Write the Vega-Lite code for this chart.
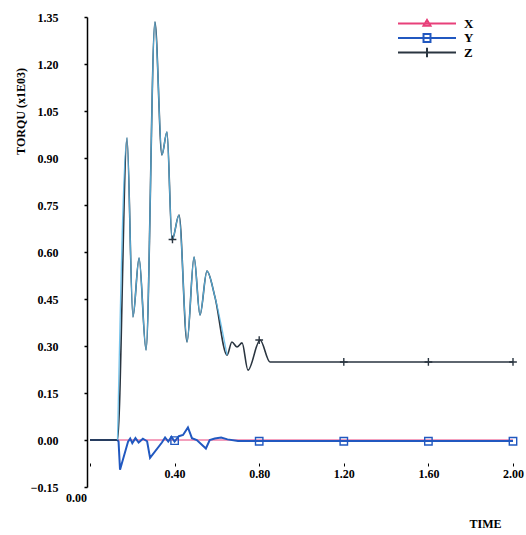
{
  "$schema": "https://vega.github.io/schema/vega-lite/v6.json",
  "width": 423,
  "height": 470,
  "autosize": {"type": "none"},
  "padding": {"left": 90, "top": 17, "right": 13, "bottom": 48},
  "background": "white",
  "config": {"view": {"stroke": null}, "font": "Liberation Serif"},
  "datasets": {
    "lines": [
      {"series": "X", "t": 0, "v": 0},
      {"series": "X", "t": 2.0, "v": 0},
      {"series": "Y", "t": 0, "v": 0},
      {"series": "Y", "t": 0.13, "v": 0},
      {"series": "Y", "t": 0.135, "v": -0.005},
      {"series": "Y", "t": 0.142, "v": -0.095},
      {"series": "Y", "t": 0.18, "v": -0.005},
      {"series": "Y", "t": 0.19, "v": 0.005},
      {"series": "Y", "t": 0.2, "v": -0.01},
      {"series": "Y", "t": 0.215, "v": 0.006},
      {"series": "Y", "t": 0.23, "v": -0.008},
      {"series": "Y", "t": 0.25, "v": 0.004},
      {"series": "Y", "t": 0.27, "v": -0.004},
      {"series": "Y", "t": 0.284, "v": -0.057},
      {"series": "Y", "t": 0.34, "v": -0.008},
      {"series": "Y", "t": 0.355, "v": 0.008},
      {"series": "Y", "t": 0.37, "v": -0.005},
      {"series": "Y", "t": 0.385, "v": 0.01},
      {"series": "Y", "t": 0.4, "v": -0.005},
      {"series": "Y", "t": 0.42, "v": 0.012},
      {"series": "Y", "t": 0.44, "v": 0.016},
      {"series": "Y", "t": 0.463, "v": 0.04},
      {"series": "Y", "t": 0.482, "v": 0.006},
      {"series": "Y", "t": 0.505, "v": 0.0},
      {"series": "Y", "t": 0.548, "v": -0.027},
      {"series": "Y", "t": 0.566, "v": 0.0},
      {"series": "Y", "t": 0.59, "v": 0.005},
      {"series": "Y", "t": 0.62, "v": 0.008},
      {"series": "Y", "t": 0.65, "v": 0.002},
      {"series": "Y", "t": 0.7, "v": -0.003},
      {"series": "Y", "t": 2.0, "v": -0.003},
      {"series": "Z", "t": 0, "v": 0},
      {"series": "Z", "t": 0.13, "v": 0},
      {"series": "Z", "t": 0.175, "v": 0.964},
      {"series": "Z", "t": 0.203, "v": 0.393},
      {"series": "Z", "t": 0.232, "v": 0.581},
      {"series": "Z", "t": 0.265, "v": 0.287},
      {"series": "Z", "t": 0.307, "v": 1.334},
      {"series": "Z", "t": 0.34, "v": 0.91},
      {"series": "Z", "t": 0.364, "v": 0.983},
      {"series": "Z", "t": 0.388, "v": 0.638},
      {"series": "Z", "t": 0.421, "v": 0.718},
      {"series": "Z", "t": 0.459, "v": 0.313},
      {"series": "Z", "t": 0.492, "v": 0.584},
      {"series": "Z", "t": 0.52, "v": 0.399},
      {"series": "Z", "t": 0.553, "v": 0.539},
      {"series": "Z", "t": 0.591, "v": 0.456},
      {"series": "Z", "t": 0.648, "v": 0.271},
      {"series": "Z", "t": 0.671, "v": 0.313},
      {"series": "Z", "t": 0.695, "v": 0.297},
      {"series": "Z", "t": 0.719, "v": 0.31},
      {"series": "Z", "t": 0.747, "v": 0.223},
      {"series": "Z", "t": 0.804, "v": 0.319},
      {"series": "Z", "t": 0.851, "v": 0.249},
      {"series": "Z", "t": 2.0, "v": 0.249}
    ],
    "markers": [
      {"series": "Y", "t": 0.4, "v": -0.002},
      {"series": "Y", "t": 0.8, "v": -0.004},
      {"series": "Y", "t": 1.2, "v": -0.004},
      {"series": "Y", "t": 1.6, "v": -0.004},
      {"series": "Y", "t": 2.0, "v": -0.004},
      {"series": "Z", "t": 0.39, "v": 0.64},
      {"series": "Z", "t": 0.8, "v": 0.319},
      {"series": "Z", "t": 1.2, "v": 0.249},
      {"series": "Z", "t": 1.6, "v": 0.249},
      {"series": "Z", "t": 2.0, "v": 0.249}
    ],
    "legendRows": [
      {"series": "X", "t": 2.0, "v": 0},
      {"series": "Y", "t": 2.0, "v": 0},
      {"series": "Z", "t": 2.0, "v": 0}
    ]
  },
  "layer": [
    {
      "data": {"name": "lines"},
      "transform": [{"filter": "datum.series === 'X'"}],
      "mark": {"type": "line", "strokeWidth": 1},
      "encoding": {
        "x": {
          "field": "t", "type": "quantitative",
          "scale": {"domain": [0, 2], "nice": false, "zero": false},
          "axis": {
            "values": [0, 0.4, 0.8, 1.2, 1.6, 2.0],
            "format": ".2f",
            "offset": -24,
            "domain": false,
            "grid": false,
            "ticks": true,
            "tickSize": 3,
            "tickColor": "black",
            "tickWidth": 1,
            "labelPadding": {"condition": {"test": "datum.value === 0", "value": 26}, "value": 2},
            "labelOffset": {"condition": {"test": "datum.value === 0", "value": -14}, "value": 0},
            "labelFont": "Liberation Serif",
            "labelFontWeight": "bold",
            "labelFontSize": 12,
            "labelColor": "black",
            "labelFlush": false,
            "title": "TIME",
            "titleFont": "Liberation Serif",
            "titleFontWeight": "bold",
            "titleFontSize": 12,
            "titleColor": "black",
            "titleX": 395,
            "titleY": 60,
            "titleAlign": "center",
            "titleBaseline": "middle"
          }
        },
        "y": {
          "field": "v", "type": "quantitative",
          "scale": {"domain": [-0.15, 1.35], "nice": false, "zero": false},
          "axis": {
            "values": [-0.15, 0, 0.15, 0.3, 0.45, 0.6, 0.75, 0.9, 1.05, 1.2, 1.35],
            "format": ".2f",
            "offset": 3,
            "grid": false,
            "domainColor": "black",
            "domainWidth": 1.5,
            "tickSize": 3,
            "tickColor": "black",
            "tickWidth": 1.5,
            "labelPadding": 26,
            "labelFont": "Liberation Serif",
            "labelFontWeight": "bold",
            "labelFontSize": 12,
            "labelColor": "black",
            "labelFlush": false,
            "title": "TORQU (x1E03)",
            "titleFont": "Liberation Serif",
            "titleFontWeight": "bold",
            "titleFontSize": 12,
            "titleColor": "black",
            "titleX": -67,
            "titleY": 94,
            "titleAngle": -90,
            "titleAlign": "center",
            "titleBaseline": "middle"
          }
        },
        "color": {
          "field": "series", "type": "nominal",
          "scale": {"domain": ["X", "Y", "Z"], "range": ["#e8407a", "#2158c0", "#2a3540"]}
        }
      }
    },
    {
      "data": {"name": "lines"},
      "transform": [{"filter": "datum.series === 'Y'"}],
      "mark": {"type": "line", "strokeWidth": 2},
      "encoding": {
        "x": {"field": "t", "type": "quantitative"},
        "y": {"field": "v", "type": "quantitative"},
        "color": {"field": "series", "type": "nominal"}
      }
    },
    {
      "mark": {"type": "rule", "color": "black", "strokeWidth": 1.5},
      "encoding": {"y": {"datum": 0}}
    },
    {
      "data": {"name": "lines"},
      "transform": [{"filter": "datum.series === 'Z'"}],
      "mark": {"type": "line", "strokeWidth": 1.6, "interpolate": "monotone"},
      "encoding": {
        "x": {"field": "t", "type": "quantitative"},
        "y": {"field": "v", "type": "quantitative"},
        "color": {"field": "series", "type": "nominal"}
      }
    },
    {
      "data": {"name": "lines"},
      "transform": [{"filter": "datum.series === 'Z' && datum.t >= 0.13 && datum.t <= 0.65"}],
      "mark": {"type": "line", "strokeWidth": 1.3, "interpolate": "monotone", "color": "#5cb8e8", "opacity": 0.85},
      "encoding": {
        "x": {"field": "t", "type": "quantitative"},
        "y": {"field": "v", "type": "quantitative"}
      }
    },
    {
      "data": {"name": "markers"},
      "transform": [{"filter": "datum.series === 'Y'"}],
      "mark": {"type": "point", "filled": false, "strokeWidth": 1.4, "size": 55, "opacity": 1, "shape": "square"},
      "encoding": {
        "x": {"field": "t", "type": "quantitative"},
        "y": {"field": "v", "type": "quantitative"},
        "color": {"field": "series", "type": "nominal"}
      }
    },
    {
      "data": {"name": "markers"},
      "transform": [{"filter": "datum.series === 'Z'"}],
      "mark": {"type": "point", "filled": false, "strokeWidth": 1.4, "size": 60, "opacity": 1, "shape": "M-1,0L1,0M0,-1L0,1"},
      "encoding": {
        "x": {"field": "t", "type": "quantitative"},
        "y": {"field": "v", "type": "quantitative"},
        "color": {"field": "series", "type": "nominal"}
      }
    },
    {
      "data": {"name": "legendRows"},
      "mark": {"type": "point", "filled": false, "opacity": 0},
      "encoding": {
        "x": {"field": "t", "type": "quantitative"},
        "y": {"field": "v", "type": "quantitative"},
        "color": {
          "field": "series", "type": "nominal",
          "legend": {
            "title": null, "orient": "none", "legendX": 307, "legendY": 0, "padding": 0,
            "symbolSize": 3364, "symbolStrokeWidth": 2, "symbolOpacity": 1, "symbolFillColor": "transparent",
            "clipHeight": 13, "rowPadding": 0.5, "labelOffset": 7,
            "labelFont": "Liberation Serif", "labelFontWeight": "bold", "labelFontSize": 13,
            "labelColor": "black", "labelBaseline": "middle"
          }
        },
        "shape": {
          "field": "series", "type": "nominal",
          "scale": {"domain": ["X", "Y", "Z"], "range": [
            "M-1,0L1,0M-0.12,0.08L0,-0.12L0.12,0.08Z",
            "M-1,0L1,0M-0.12,-0.14L0.12,-0.14L0.12,0.14L-0.12,0.14Z",
            "M-1,0L1,0M0,-0.16L0,0.16"
          ]},
          "legend": {
            "title": null, "orient": "none", "legendX": 307, "legendY": 0, "padding": 0,
            "symbolSize": 3364, "symbolStrokeWidth": 2, "symbolOpacity": 1, "symbolFillColor": "transparent",
            "clipHeight": 13, "rowPadding": 0.5, "labelOffset": 7,
            "labelFont": "Liberation Serif", "labelFontWeight": "bold", "labelFontSize": 13,
            "labelColor": "black", "labelBaseline": "middle"
          }
        }
      }
    }
  ]
}
